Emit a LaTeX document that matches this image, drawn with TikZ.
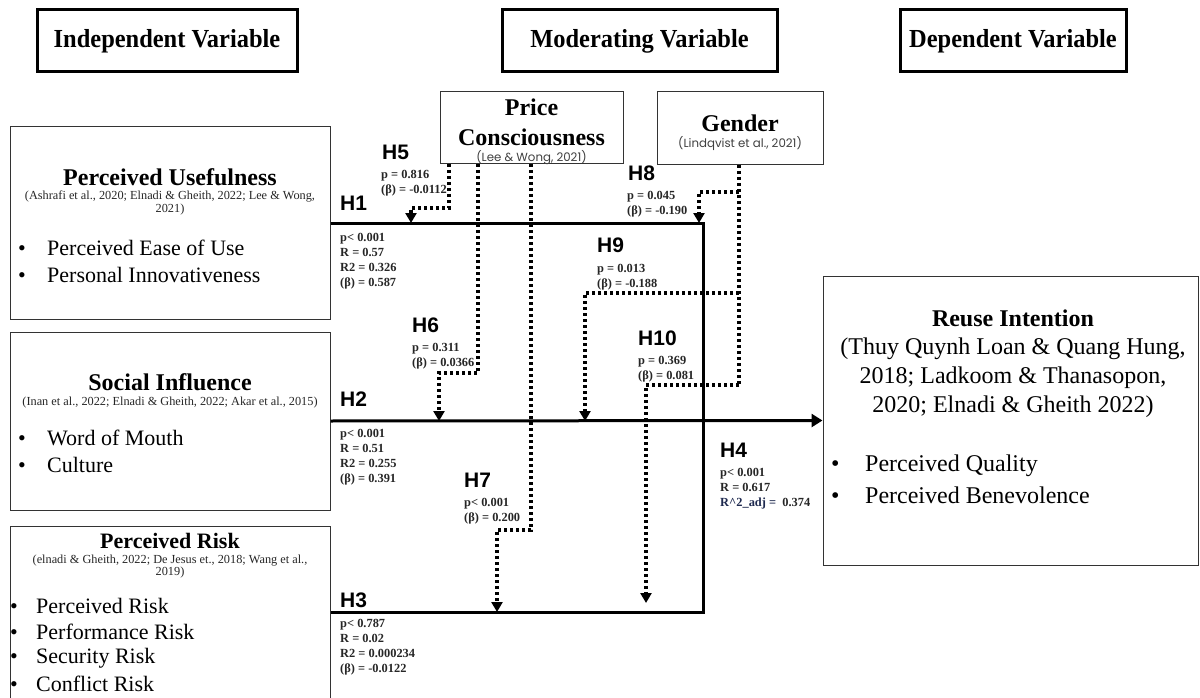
\documentclass[tikz,border=0pt]{standalone}
\usepackage{fontspec}
\setmainfont{Liberation Serif}
\newfontfamily\hfont{Liberation Sans}
\newfontfamily\gfont{Poppins}
\usetikzlibrary{arrows.meta,calc}
\definecolor{navy}{HTML}{1F2A4F}
\begin{document}
\begin{tikzpicture}[x=1pt,y=-1pt,
  box/.style={draw=black!80, line width=1pt, inner sep=0pt, fill=white},
  hdr/.style={draw=black, line width=3pt, inner sep=0pt, font=\fontsize{26}{28}\selectfont\bfseries},
  ttl/.style={font=\fontsize{24}{29}\selectfont\bfseries, inner sep=0pt, align=center},
  cite/.style={font=\fontsize{12.3}{12.5}\selectfont, align=center, inner sep=0pt, text=black!85},
  gcite/.style={font=\gfont\fontsize{11.8}{13}\selectfont, inner sep=0pt, text=black!75},
  item/.style={font=\fontsize{22}{24}\selectfont, anchor=west, inner sep=0pt},
  bigitem/.style={font=\fontsize{24}{26}\selectfont, anchor=west, inner sep=0pt},
  hyp/.style={font=\hfont\fontsize{21}{21}\selectfont\bfseries, anchor=west, inner sep=0pt},
  stat/.style={font=\fontsize{12.4}{15}\selectfont\bfseries, anchor=north west, align=left, inner sep=0pt, text=black!85},
  main/.style={line width=3pt},
  dotl/.style={line width=3.2pt, dash pattern=on 3pt off 3pt},
  tip/.style={-{Triangle[width=11pt,length=10pt]}},
  bigtip/.style={-{Triangle[width=13pt,length=11pt]}}
]
\useasboundingbox (0,0) rectangle (1200,698);

% headers
\node[hdr, minimum width=260pt, minimum height=62pt] (hi) at (167,41) {\scalebox{0.94}[1]{Independent Variable}};
\node[hdr, minimum width=275pt, minimum height=62pt] (hm) at (639.5,41) {\scalebox{0.94}[1]{Moderating Variable}};
\node[hdr, minimum width=226pt, minimum height=62pt] (hd) at (1013,41) {\scalebox{0.94}[1]{Dependent Variable}};

% left boxes
\node[box, minimum width=320pt, minimum height=192pt] (pu) at (170,223) {};
\node[ttl] (put) at (170,177) {Perceived Usefulness};
\node[cite] (puc) at (170,203) {(Ashrafi et al., 2020; Elnadi \& Gheith, 2022; Lee \& Wong,\\2021)};
\node[item] (pu1) at (18,248) {\makebox[29pt][l]{•}Perceived Ease of Use};
\node[item] (pu2) at (18,275) {\makebox[29pt][l]{•}Personal Innovativeness};

\node[box, minimum width=320pt, minimum height=178pt] (si) at (170,421) {};
\node[ttl] (sit) at (170,382) {Social Influence};
\node[cite] (sic) at (170,403) {(Inan et al., 2022; Elnadi \& Gheith, 2022; Akar et al., 2015)};
\node[item] (si1) at (18,438) {\makebox[29pt][l]{•}Word of Mouth};
\node[item] (si2) at (18,465) {\makebox[29pt][l]{•}Culture};

\node[box, minimum width=320pt, minimum height=172pt] (pr) at (170,612) {};
\node[ttl, font=\fontsize{22}{24}\selectfont\bfseries] (prt) at (170,541) {Perceived Risk};
\node[cite] (prc) at (170,566.5) {(elnadi \& Gheith, 2022; De Jesus et., 2018; Wang et al.,\\2019)};
\node[item] (pr1) at (10,606) {\makebox[26pt][l]{•}Perceived Risk};
\node[item] (pr2) at (10,632) {\makebox[26pt][l]{•}Performance Risk};
\node[item] (pr3) at (10,658) {\makebox[26pt][l]{•}Security Risk};
\node[item] (pr4) at (10,684) {\makebox[26pt][l]{•}Conflict Risk};

% moderators
\node[box, minimum width=183pt, minimum height=72pt] (pc) at (531.5,128) {};
\node[ttl] (pct1) at (531.5,107) {Price};
\node[ttl] (pct2) at (531.5,137) {Consciousness};
\node[gcite] (pcc) at (531.5,158) {(Lee \& Wong, 2021)};

\node[box, minimum width=166pt, minimum height=73pt] (ge) at (740,128.5) {};
\node[ttl] (get) at (740,123) {Gender};
\node[gcite] (gec) at (740,144) {(Lindqvist et al., 2021)};

% dependent
\node[box, minimum width=375pt, minimum height=289pt] (ri) at (1010.5,420.5) {};
\node[ttl] (rit) at (1013,318) {Reuse Intention};
\node[ttl, font=\fontsize{24}{29}\selectfont] (ric) at (1013,378) {(Thuy Quynh Loan \& Quang Hung,\\2018; Ladkoom \& Thanasopon,\\2020; Elnadi \& Gheith 2022)};
\node[bigitem] (ri1) at (831,466) {\makebox[34pt][l]{•}Perceived Quality};
\node[bigitem] (ri2) at (831,495) {\makebox[34pt][l]{•}Perceived Benevolence};

% main connectors
\coordinate (j1) at (703,223);
\coordinate (j3) at (703,612);
\draw[main] (pu.east) -- (j1) -- (j3) -- (pr.east);
\draw[main,bigtip] (si.east) -- (ri.west);

% moderating connectors
\coordinate (a5) at (449,164); \coordinate (b5) at (449,208); \coordinate (c5) at (411,208); \coordinate (e5) at (411,223);
\coordinate (a6) at (478,164); \coordinate (b6) at (478,373); \coordinate (c6) at (439,373); \coordinate (e6) at (439,421);
\coordinate (a7) at (531,164); \coordinate (b7) at (531,530); \coordinate (c7) at (497,530); \coordinate (e7) at (497,612);
\draw[dotl,tip] (a5) -- (b5) -- (c5) -- (e5);
\draw[dotl,tip] (a6) -- (b6) -- (c6) -- (e6);
\draw[dotl,tip] (a7) -- (b7) -- (c7) -- (e7);

\coordinate (g0) at (739,165); \coordinate (g1) at (739,385);
\coordinate (b8) at (739,192); \coordinate (c8) at (699,192); \coordinate (e8) at (699,223);
\coordinate (b9) at (739,293); \coordinate (c9) at (585,293); \coordinate (e9) at (585,421);
\coordinate (c10) at (646,385); \coordinate (e10) at (646,603);
\draw[dotl] (g0) -- (g1);
\draw[dotl,tip] (b8) -- (c8) -- (e8);
\draw[dotl,tip] (b9) -- (c9) -- (e9);
\draw[dotl,tip] (g1) -- (c10) -- (e10);

% hypothesis labels
\node[hyp] (h1) at (340,203) {H1};
\node[stat] (s1) at (340,232.8) {p< 0.001\\R = 0.57\\R2 = 0.326\\(β) = 0.587};
\node[hyp] (h2) at (340,399) {H2};
\node[stat] (s2) at (340,428.8) {p< 0.001\\R = 0.51\\R2 = 0.255\\(β) = 0.391};
\node[hyp] (h3) at (340,600) {H3};
\node[stat] (s3) at (340,618.8) {p< 0.787\\R = 0.02\\R2 = 0.000234\\(β) = -0.0122};
\node[hyp] (h4) at (720,450) {H4};
\node[stat] (s4) at (720,467.8) {p< 0.001\\R = 0.617\\{\color{navy}R\textasciicircum 2\_adj =}\ \ 0.374};
\node[hyp] (h5) at (382,152) {H5};
\node[stat] (s5) at (381,169.8) {p = 0.816\\(β) = -0.0112};
\node[hyp] (h6) at (412,325) {H6};
\node[stat] (s6) at (412,342.8) {p = 0.311\\(β) = 0.0366};
\node[hyp] (h7) at (464,480) {H7};
\node[stat] (s7) at (464,497.8) {p< 0.001\\(β) = 0.200};
\node[hyp] (h8) at (628,173) {H8};
\node[stat] (s8) at (627,190.8) {p = 0.045\\(β) = -0.190};
\node[hyp] (h9) at (597,245) {H9};
\node[stat] (s9) at (597,263.8) {p = 0.013\\(β) = -0.188};
\node[hyp] (h10) at (638,338) {H10};
\node[stat] (s10) at (638,355.8) {p = 0.369\\(β) = 0.081};
\end{tikzpicture}
\end{document}
